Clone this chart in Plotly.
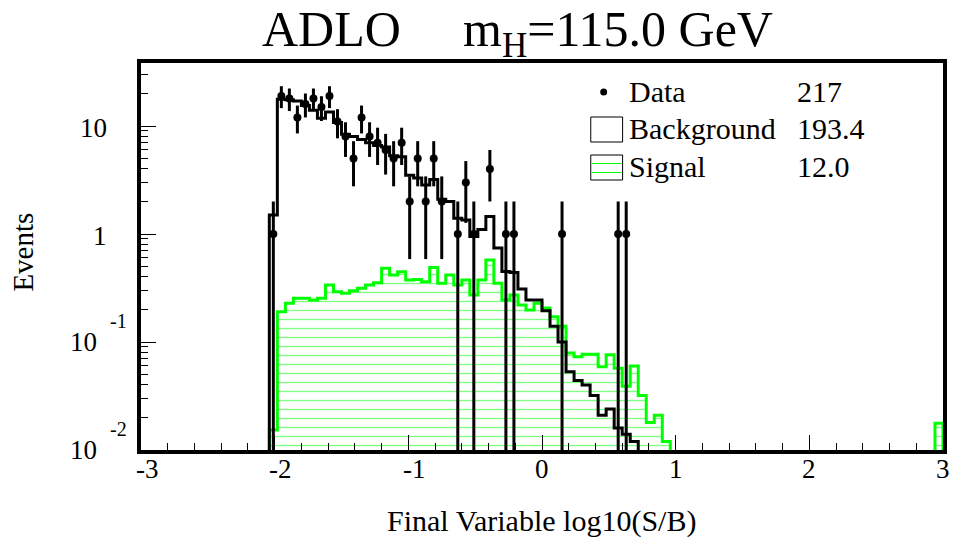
import numpy as np
import plotly.graph_objects as go

# ---------------- data ----------------
x_min, x_max, n_bins = -3.0, 3.0, 100
first_bin = 16          # bin starting at -2.04

bkg_values = [1.5, 17.7, 17.5, 17.0, 15.5, 14.0, 11.8, 13.5, 10.8, 8.4,
              8.0, 7.5, 7.0, 6.6, 6.4, 5.3, 5.2, 3.5, 3.3, 2.85,
              3.2, 2.1, 2.0, 1.4, 1.35, 0.95, 1.1, 1.45, 0.74, 0.45,
              0.44, 0.31, 0.245, 0.245, 0.195, 0.14, 0.10, 0.053, 0.044, 0.04,
              0.032, 0.021, 0.024, 0.016, 0.014, 0.012]

sig_values = [0.0153, 0.191, 0.228, 0.254, 0.254, 0.245, 0.254, 0.337, 0.292, 0.282,
              0.298, 0.314, 0.337, 0.354, 0.481, 0.417, 0.448, 0.375, 0.38, 0.362,
              0.49, 0.35, 0.417, 0.337, 0.375, 0.272, 0.375, 0.575, 0.35, 0.245,
              0.272, 0.22, 0.198, 0.228, 0.206, 0.171, 0.14, 0.079, 0.073, 0.077,
              0.077, 0.059, 0.076, 0.057, 0.039, 0.06, 0.032, 0.018, 0.021, 0.012]
sig_last_bin = 99
sig_last_value = 0.0177

data_counts = [1, 19, 18, 12, 16, 18, 15, 19, 11, 8,
               5, 12, 8, 7, 6, 5, 7, 2, 5, 2,
               5, 2, 0, 1, 3, 1, 0, 4, 0, 1,
               1, 0, 0, 0, 0, 0, 1, 0, 0, 0,
               0, 0, 0, 1, 1]

x_ticks = [-3, -2, -1, 0, 1, 2, 3]
x_tick_text = ["-3", "-2", "-1", "0", "1", "2", "3"]
y_tick_vals = [0.01, 0.1, 1, 10]
y_tick_base = ["10", "10", "1", "10"]
y_tick_exp = ["-2", "-1", "", ""]
legend_labels = ["Data", "Background", "Signal"]
legend_totals = ["217", "193.4", "12.0"]
title_left = "ADLO"
title_right = "m<sub>H</sub>=115.0 GeV"
x_title = "Final Variable log10(S/B)"
y_title = "Events"

# ---------------- histogram construction ----------------
bw = (x_max - x_min) / n_bins
edges = x_min + bw * np.arange(n_bins + 1)
centers = edges[:-1] + bw / 2


def full(values, start):
    arr = np.zeros(n_bins)
    arr[start:start + len(values)] = values
    return arr


bkg = full(bkg_values, first_bin)
sig = full(sig_values, first_bin)
sig[sig_last_bin] = sig_last_value
data = full(data_counts, first_bin)

FLOOR = 1e-4


def step_xy(arr):
    nz = np.nonzero(arr)[0]
    lo, hi = nz[0], nz[-1] + 1
    xs = [edges[lo]]
    ys = [FLOOR]
    for i in range(lo, hi):
        xs.append(edges[i])
        ys.append(arr[i] if arr[i] > 0 else FLOOR)
    xs.append(edges[hi]); ys.append(ys[-1])
    xs.append(edges[hi]); ys.append(FLOOR)
    return xs, ys


GREEN = "#00ff00"
FONT = "Liberation Serif, Times New Roman, serif"

fig = go.Figure()

sx, sy = step_xy(sig)
fig.add_trace(go.Scatter(
    x=sx, y=sy, mode="lines", line=dict(color=GREEN, width=3, shape="hv"),
    fill="tozeroy", fillcolor="rgba(0,0,0,0)",
    fillpattern=dict(shape="-", fgcolor=GREEN, bgcolor="rgba(0,0,0,0)",
                     size=9, solidity=0.15, fillmode="overlay"),
    hoverinfo="skip"))

bx, by = step_xy(bkg)
fig.add_trace(go.Scatter(
    x=bx, y=by, mode="lines", line=dict(color="black", width=3, shape="hv"),
    hoverinfo="skip"))

mask = data > 0
fig.add_trace(go.Scatter(
    x=centers[mask], y=data[mask], mode="markers",
    marker=dict(color="black", size=8),
    error_y=dict(type="data", symmetric=False, array=np.sqrt(data[mask]),
                 arrayminus=np.sqrt(data[mask]), color="black", thickness=3, width=0)))

# ---------------- layout ----------------
W, H = 956, 544
L, R, T, B = 141, 947, 63, 450


def px(x):
    return (x - L) / (R - L)


def py(y):
    return (B - y) / (B - T)


y_top = 10 ** ((234 - T) / 108)
minor_x = [v for v in np.round(np.arange(x_min, x_max + 1e-9, 0.2), 3)]
minor_y = [m * 10.0 ** e for e in range(-2, 2) for m in range(2, 10) if m * 10.0 ** e < y_top]

fig.update_layout(
    width=W, height=H, margin=dict(l=L, r=W - R, t=T, b=H - B),
    paper_bgcolor="white", plot_bgcolor="white", showlegend=False,
    font=dict(family=FONT, color="black"),
    xaxis=dict(range=[x_min, x_max], tickmode="array", tickvals=x_ticks,
               showticklabels=False,
               ticks="inside", ticklen=15, tickwidth=1, tickcolor="black",
               showline=True, linewidth=4, linecolor="black", mirror=True,
               showgrid=False, zeroline=False,
               minor=dict(tickmode="array", tickvals=minor_x, ticks="inside",
                          ticklen=7, tickwidth=1, tickcolor="black", showgrid=False)),
    yaxis=dict(type="log", range=[-2, np.log10(y_top)], tickmode="array",
               tickvals=y_tick_vals, showticklabels=False,
               ticks="inside", ticklen=15, tickwidth=1, tickcolor="black",
               showline=True, linewidth=4, linecolor="black", mirror=True,
               showgrid=False, zeroline=False,
               minor=dict(tickmode="array", tickvals=minor_y, ticks="inside",
                          ticklen=7, tickwidth=1, tickcolor="black", showgrid=False)),
)

ann = []


def text(t, x, y, size, xanchor="left", textangle=0, yanchor="middle"):
    ann.append(dict(text=t, x=px(x), y=py(y), xref="paper", yref="paper",
                    xanchor=xanchor, yanchor=yanchor, showarrow=False, borderpad=0,
                    textangle=textangle, font=dict(size=size, family=FONT, color="black")))


# title
text(title_left, 262, 0, 50, yanchor="top")
text(title_right, 464, 0, 50, yanchor="top")
# axis titles
text(x_title, 543, 521, 30, xanchor="center")
text(y_title, 22, 252, 29, xanchor="center", textangle=-90)

# x tick labels (ROOT style, hyphen minus)
for v, t in zip(x_ticks, x_tick_text):
    ann.append(dict(text=t, x=v, y=py(469), xref="x", yref="paper",
                    xanchor="center", yanchor="middle", showarrow=False, borderpad=0,
                    xshift=6 if v < 0 else 0,
                    font=dict(size=27, family=FONT, color="black")))

# y tick labels: base plus raised exponent
for v, base, ex in zip(y_tick_vals, y_tick_base, y_tick_exp):
    ann.append(dict(text=base, x=px(98 if ex else 108), y=np.log10(v), xref="paper", yref="y",
                    xanchor="right", yanchor="middle", showarrow=False, borderpad=0,
                    yshift=0 if ex else -2,
                    font=dict(size=27, family=FONT, color="black")))
    if ex:
        ann.append(dict(text=ex, x=px(109), y=np.log10(v), xref="paper", yref="y",
                        xanchor="left", yanchor="middle", showarrow=False, borderpad=0,
                        yshift=21,
                        font=dict(size=20, family=FONT, color="black")))

# legend
rows_y = [91, 128, 166]
for lab, tot, yy in zip(legend_labels, legend_totals, rows_y):
    text(lab, 630, yy, 30)
    text(tot, 799, yy, 30)

shapes = []
shapes.append(dict(type="circle", xref="paper", yref="paper",
                   x0=px(602.5), x1=px(609.5), y0=py(95.5), y1=py(88.5),
                   fillcolor="black", line=dict(color="black", width=0)))
for y0, y1 in [(117, 142), (155, 180)]:
    shapes.append(dict(type="rect", xref="paper", yref="paper",
                       x0=px(593), x1=px(625), y0=py(y1), y1=py(y0),
                       line=dict(color="black", width=1), fillcolor="rgba(0,0,0,0)"))
for yy in [163.5, 172.5]:
    shapes.append(dict(type="line", xref="paper", yref="paper",
                       x0=px(594), x1=px(624), y0=py(yy), y1=py(yy),
                       line=dict(color=GREEN, width=1)))

fig.update_layout(annotations=ann, shapes=shapes)
fig.write_html("out.html", config={"displayModeBar": False},
               post_script="document.body.style.margin='0';document.body.style.overflow='hidden';")
